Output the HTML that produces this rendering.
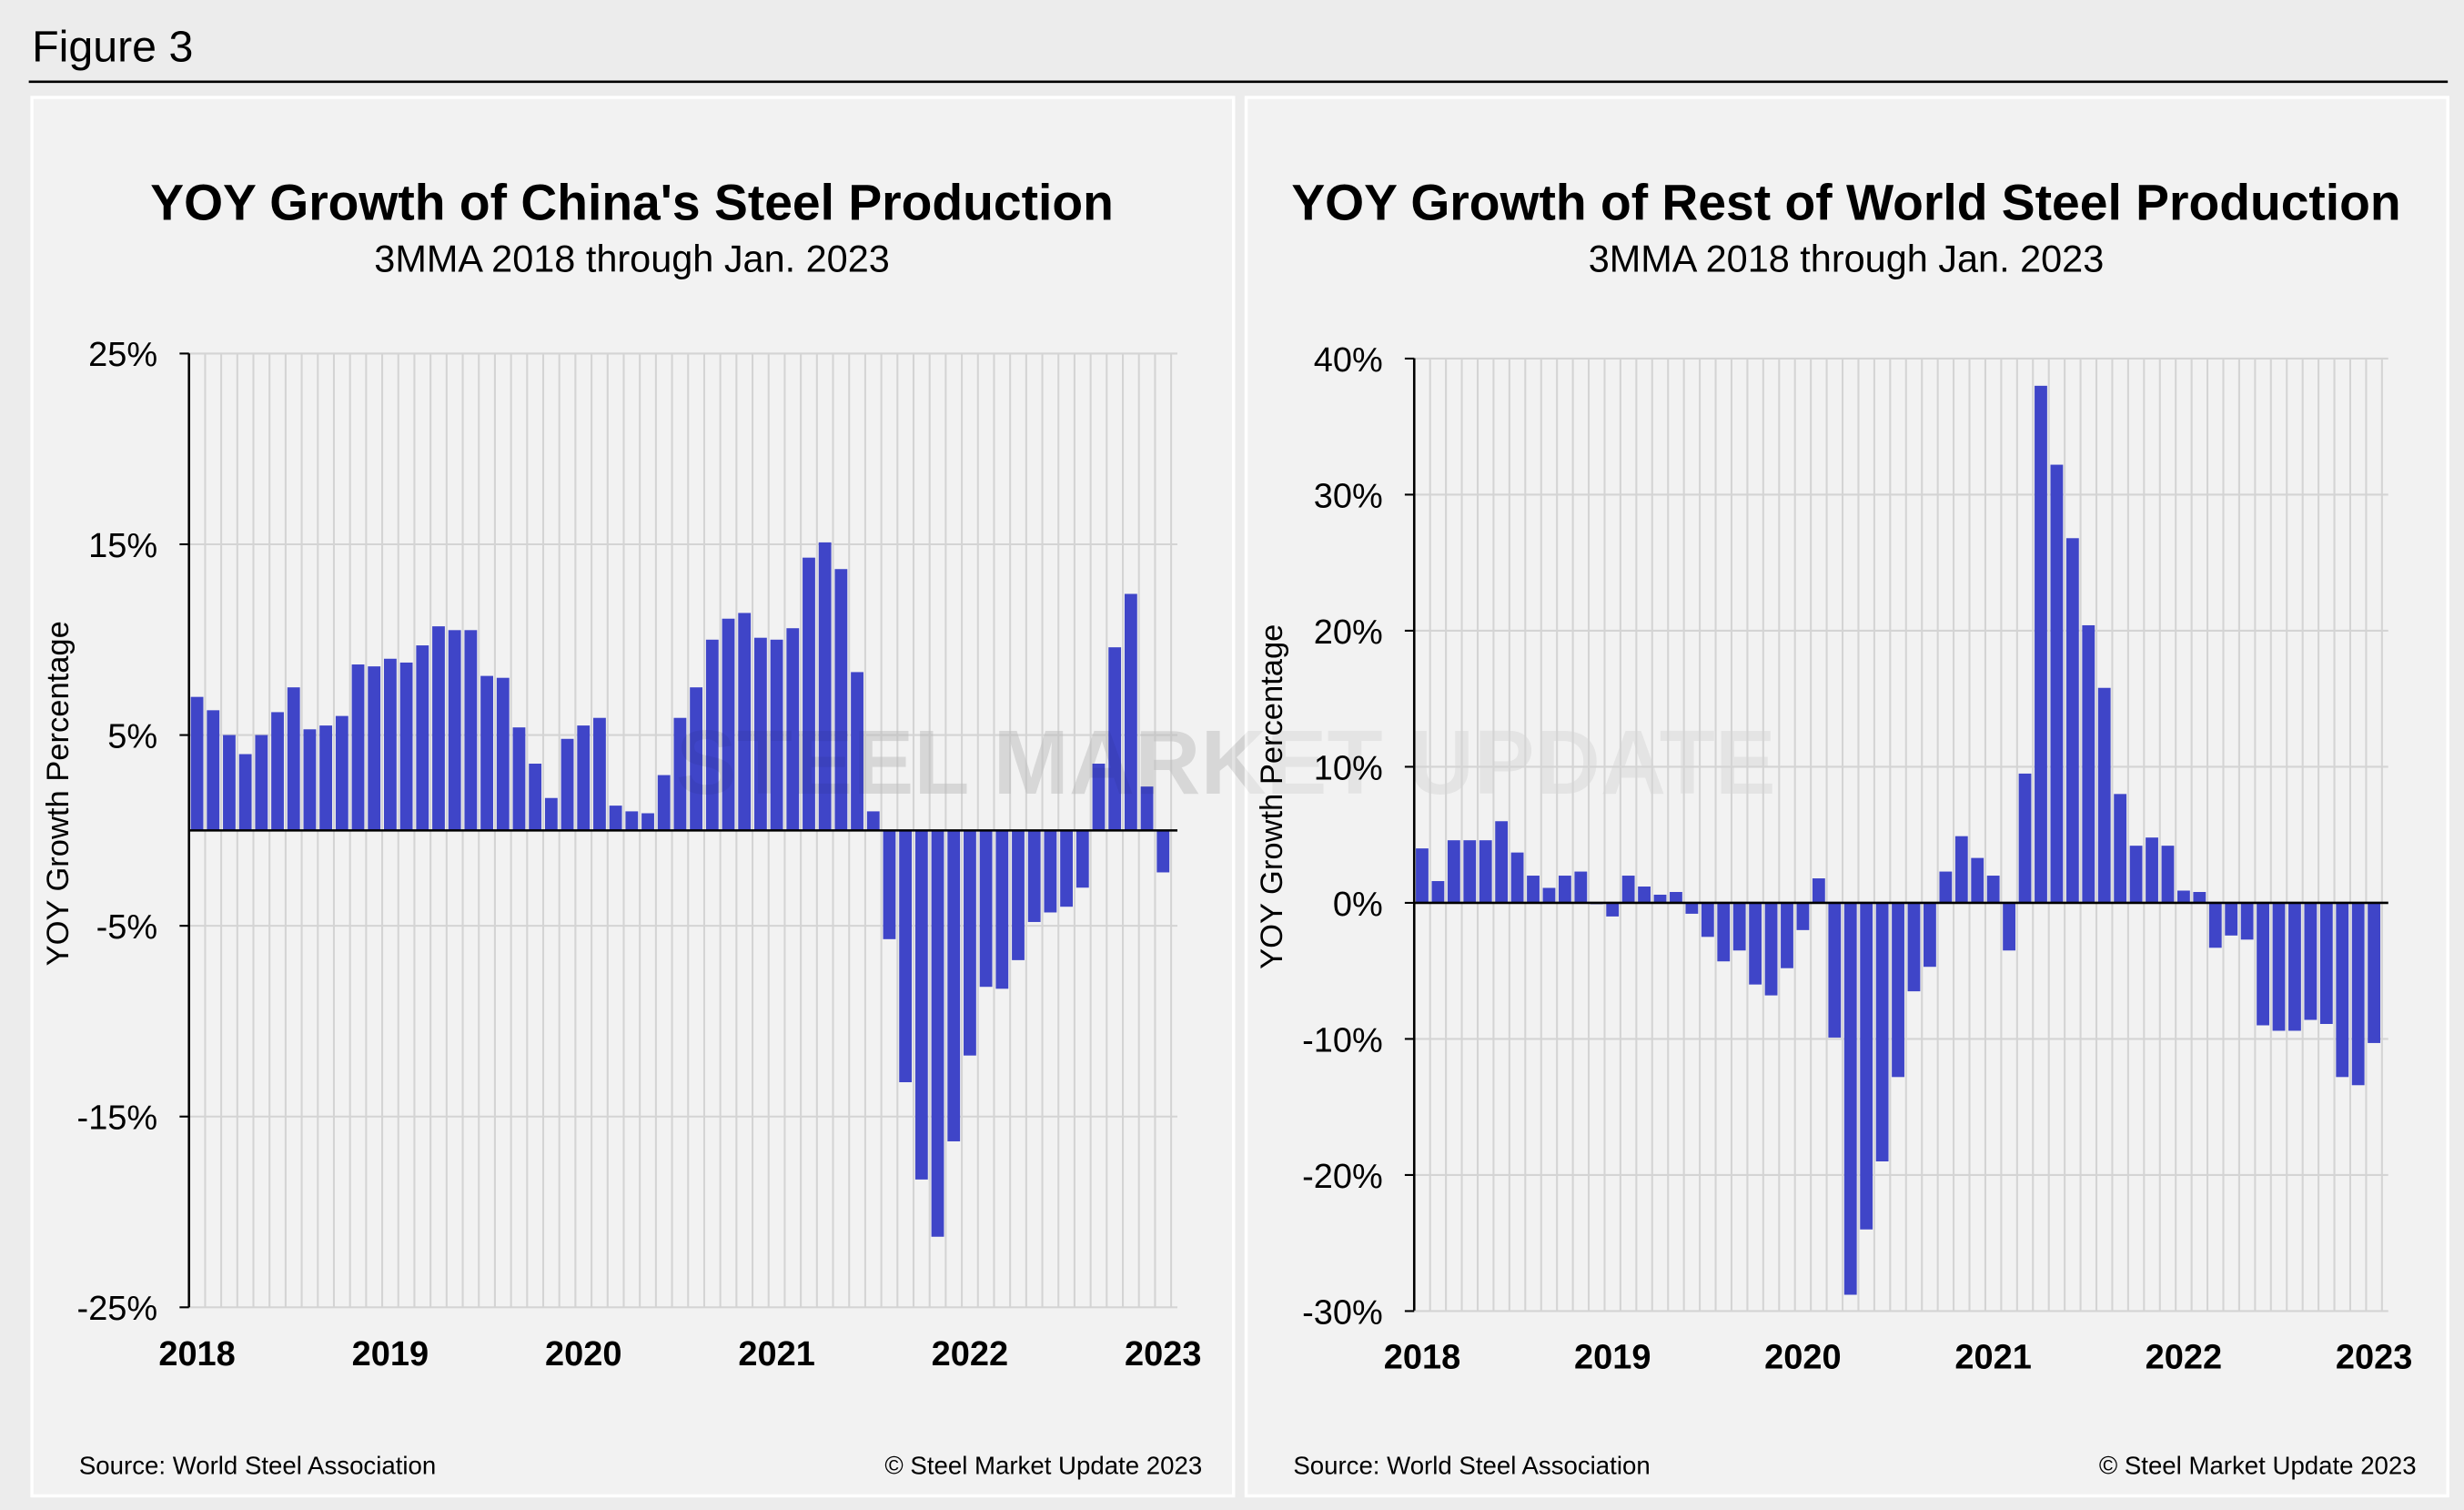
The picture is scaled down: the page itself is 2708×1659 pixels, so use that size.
<!DOCTYPE html>
<html><head><meta charset="utf-8">
<style>
html,body{margin:0;padding:0;background:#ececec;}
svg{display:block;font-family:"Liberation Sans",Arial,sans-serif;}
</style></head>
<body>
<svg id="root" width="2708" height="1659" viewBox="0 0 1568 961" xmlns="http://www.w3.org/2000/svg">
<rect x="0" y="0" width="1568" height="961" fill="#ececec"/>
<text x="20" y="39" font-size="28" fill="#000">Figure 3</text>
<line x1="18" y1="52" x2="1558" y2="52" stroke="#000" stroke-width="1.5"/>
<g id="left"></g>
<g id="right"></g>
</svg>
<script>
const categoriesYears = ["2018","2019","2020","2021","2022","2023"];
const chinaValues = [7.0,6.3,5.0,4.0,5.0,6.2,7.5,5.3,5.5,6.0,8.7,8.6,9.0,8.8,9.7,10.7,10.5,10.5,8.1,8.0,5.4,3.5,1.7,4.8,5.5,5.9,1.3,1.0,0.9,2.9,5.9,7.5,10.0,11.1,11.4,10.1,10.0,10.6,14.3,15.1,13.7,8.3,1.0,-5.7,-13.2,-18.3,-21.3,-16.3,-11.8,-8.2,-8.3,-6.8,-4.8,-4.3,-4.0,-3.0,3.5,9.6,12.4,2.3,-2.2];
const rowValues = [4.0,1.6,4.6,4.6,4.6,6.0,3.7,2.0,1.1,2.0,2.3,-0.1,-1.0,2.0,1.2,0.6,0.8,-0.8,-2.5,-4.3,-3.5,-6.0,-6.8,-4.8,-2.0,1.8,-9.9,-28.8,-24.0,-19.0,-12.8,-6.5,-4.7,2.3,4.9,3.3,2.0,-3.5,9.5,38.0,32.2,26.8,20.4,15.8,8.0,4.2,4.8,4.2,0.9,0.8,-3.3,-2.4,-2.7,-9.0,-9.4,-9.4,-8.6,-8.9,-12.8,-13.4,-10.3];
const chinaTicks = [25,15,5,-5,-15,-25];
const chinaTickLabels = ["25%","15%","5%","-5%","-15%","-25%"];
const rowTicks = [40,30,20,10,0,-10,-20,-30];
const rowTickLabels = ["40%","30%","20%","10%","0%","-10%","-20%","-30%"];

const NS="http://www.w3.org/2000/svg";
function mk(parent,tag,attrs,text){const e=document.createElementNS(NS,tag);for(const k in attrs)e.setAttribute(k,attrs[k]);if(text!==undefined)e.textContent=text;parent.appendChild(e);return e;}

function drawChart(g,cfg){
  const p=mk(g,'rect',{x:cfg.px,y:62,width:765,height:890,fill:'#f2f2f2',stroke:'#fff','stroke-width':2});
  
  const cx=cfg.px+382;
  let t=mk(g,'text',{x:cx,y:140,'font-size':32,'font-weight':'bold','text-anchor':'middle'},cfg.title);
  
  t=mk(g,'text',{x:cx,y:173,'font-size':24,'text-anchor':'middle'},'3MMA 2018 through Jan. 2023');
  
  t=mk(g,'text',{x:cfg.wmx,y:505,'font-size':58,fill:'#000',opacity:0.05,'font-weight':'bold'},'STEEL MARKET UPDATE');
  
  const y=v=>cfg.y0-(v/10)*cfg.ppt;
  const n=cfg.values.length;
  const xb=i=>cfg.x0+cfg.step*i;
  for(let i=1;i<=n;i++){const l=mk(g,'line',{x1:xb(i),x2:xb(i),y1:cfg.top,y2:cfg.bot,stroke:'#d4d4d4','stroke-width':1.2});
    }
  cfg.ticks.forEach((v,k)=>{
    const l=mk(g,'line',{x1:cfg.x0-6,x2:xb(n)+4,y1:y(v),y2:y(v),stroke:'#d4d4d4','stroke-width':1.2});
    
    const tm=mk(g,'line',{x1:cfg.x0-6,x2:cfg.x0,y1:y(v),y2:y(v),stroke:'#000','stroke-width':1.2});
    
    const tl=mk(g,'text',{x:cfg.x0-20,y:y(v)+8,'font-size':22,'text-anchor':'end'},cfg.tickLabels[k]);
    
  });
  cfg.values.forEach((v,i)=>{
    const c=xb(i)+cfg.step/2;
    const y1=Math.min(y(v),cfg.y0),h=Math.abs(y(v)-cfg.y0);
    const b=mk(g,'rect',{x:c-4,y:y1,width:8,height:Math.max(h,0.5),fill:'#3f45c8'});
    
  });
  let a=mk(g,'line',{x1:cfg.x0,x2:cfg.x0,y1:cfg.top,y2:cfg.bot,stroke:'#000','stroke-width':1.5});
  
  a=mk(g,'line',{x1:cfg.x0,x2:xb(n)+4,y1:cfg.y0,y2:cfg.y0,stroke:'#000','stroke-width':1.5});
  
  categoriesYears.forEach((yr,k)=>{
    const c=xb(k*12)+cfg.step/2;
    const tl=mk(g,'text',{x:c,y:cfg.bot+37,'font-size':22,'font-weight':'bold','text-anchor':'middle'},yr);
    
  });
  const yl=mk(g,'text',{x:0,y:0,'font-size':20,'text-anchor':'middle',transform:`translate(${cfg.px+23},${cfg.ytc}) rotate(-90)`},'YOY Growth Percentage');
  
  let s=mk(g,'text',{x:cfg.px+30,y:938,'font-size':16},'Source: World Steel Association');
  
  s=mk(g,'text',{x:cfg.px+745,y:938,'font-size':16,'text-anchor':'end'},'\u00A9 Steel Market Update 2023');
  
}
drawChart(document.getElementById('left'),{px:20,title:"YOY Growth of China's Steel Production",values:chinaValues,ticks:chinaTicks,tickLabels:chinaTickLabels,x0:120,step:10.25,top:225,bot:832,y0:528.5,ppt:121.4,wmx:430,ytc:505});
drawChart(document.getElementById('right'),{px:793,title:"YOY Growth of Rest of World Steel Production",values:rowValues,ticks:rowTicks,tickLabels:rowTickLabels,x0:900,step:10.1,top:228,bot:834,y0:574.6,ppt:86.6,wmx:430,ytc:507});
</script>
</body></html>
